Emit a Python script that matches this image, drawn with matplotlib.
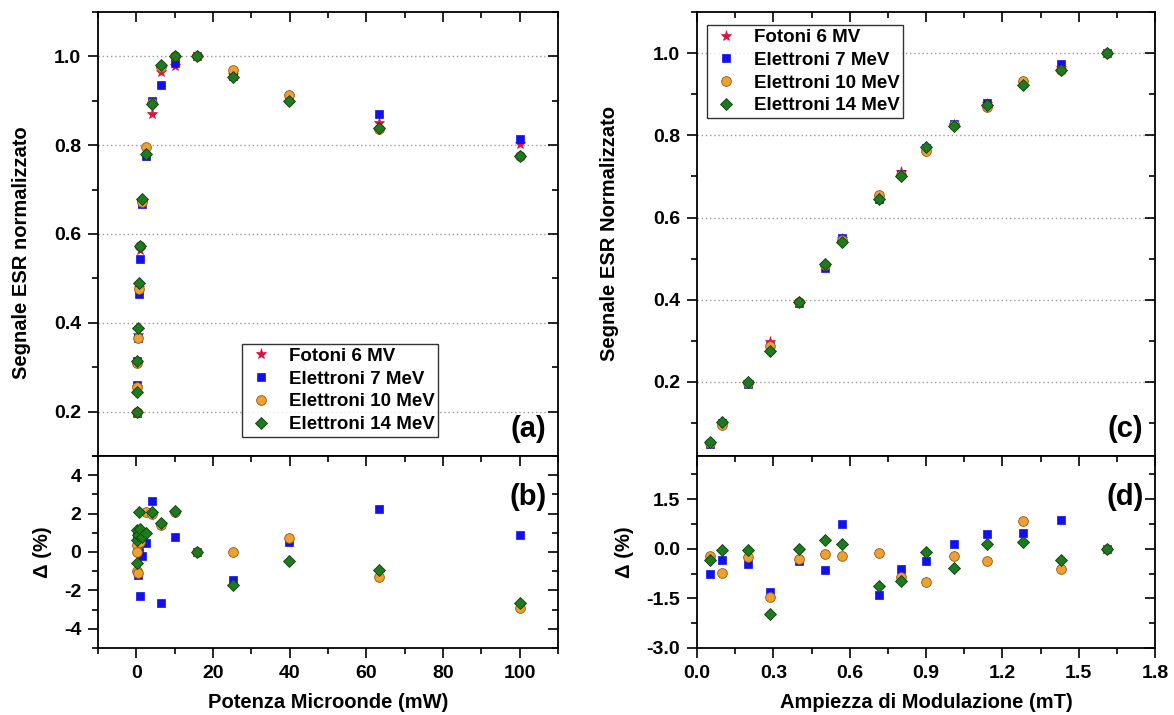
"""ESR signal vs microwave power and modulation amplitude, four beam types."""

import matplotlib
matplotlib.use("Agg")
import matplotlib.pyplot as plt
from matplotlib.lines import TICKLEFT, TICKDOWN
from matplotlib.ticker import MultipleLocator

plt.rcParams["font.family"] = ["Liberation Sans", "DejaVu Sans"]
plt.rcParams["font.weight"] = "bold"
plt.rcParams["axes.unicode_minus"] = False

# --- data: panel (a)/(b), microwave power (mW) ---
power = [0.1, 0.159, 0.25, 0.4, 0.63, 1.0, 1.59, 2.52, 3.99, 6.32,
         10.0, 15.9, 25.2, 39.9, 63.2, 100]
pw_fot6 = [0.200, 0.255, 0.312, 0.372, 0.478, 0.565, 0.672, 0.775, 0.871, 0.965,
           0.979, 1.000, 0.958, 0.910, 0.850, 0.803]
pw_el7 = [0.197, 0.260, 0.315, 0.366, 0.464, 0.543, 0.667, 0.775, 0.900, 0.936,
          0.985, 1.000, 0.955, 0.905, 0.870, 0.813]
pw_el10 = [0.200, 0.256, 0.310, 0.366, 0.476, 0.573, 0.672, 0.796, 0.895, 0.975,
           1.000, 1.000, 0.970, 0.914, 0.837, 0.775]
pw_el14 = [0.200, 0.244, 0.314, 0.388, 0.489, 0.573, 0.678, 0.781, 0.893, 0.980,
           1.000, 1.000, 0.953, 0.900, 0.839, 0.775]
pw_d7 = [1.05, 0.8, 0.5, -1.2, 0.0, -2.3, -0.2, 0.45, 2.65, -2.65,
         0.8, 0.0, -1.45, 0.5, 2.25, 0.9]
pw_d10 = [0.36, 0.0, -1.0, -1.1, 0.8, 0.5, 0.9, 2.07, 2.0, 1.4,
          2.1, 0.0, 0.0, 0.75, -1.3, -2.9]
pw_d14 = [0.6, -0.55, 1.15, 0.9, 2.07, 1.2, 0.8, 1.0, 2.07, 1.5,
          2.15, 0.0, -1.7, -0.45, -0.95, -2.65]

# --- data: panel (c)/(d), modulation amplitude (mT) ---
modul = [0.05, 0.1, 0.2, 0.285, 0.4, 0.505, 0.57, 0.715, 0.8, 0.9,
         1.01, 1.14, 1.28, 1.43, 1.61]
md_fot6 = [0.050, 0.100, 0.200, 0.298, 0.395, 0.485, 0.548, 0.648, 0.710, 0.768,
           0.826, 0.876, 0.928, 0.965, 1.000]
md_el7 = [0.048, 0.100, 0.195, 0.288, 0.393, 0.478, 0.551, 0.644, 0.705, 0.768,
          0.828, 0.879, 0.928, 0.973, 1.000]
md_el10 = [0.052, 0.096, 0.198, 0.288, 0.395, 0.484, 0.546, 0.654, 0.703, 0.761,
           0.824, 0.869, 0.931, 0.960, 1.000]
md_el14 = [0.053, 0.102, 0.199, 0.276, 0.395, 0.486, 0.541, 0.644, 0.700, 0.771,
           0.822, 0.875, 0.923, 0.958, 1.000]
md_d7 = [-0.76, -0.35, -0.45, -1.32, -0.38, -0.64, 0.76, -1.41, -0.62, -0.38,
         0.15, 0.45, 0.47, 0.88, 0.0]
md_d10 = [-0.23, -0.74, -0.25, -1.47, -0.31, -0.16, -0.21, -0.13, -0.86, -1.01,
          -0.21, -0.38, 0.83, -0.62, 0.0]
md_d14 = [-0.35, -0.03, -0.05, -1.97, 0.0, 0.25, 0.14, -1.12, -0.99, -0.11,
          -0.59, 0.15, 0.20, -0.33, 0.0]

labels = ["Fotoni 6 MV", "Elettroni 7 MeV", "Elettroni 10 MeV", "Elettroni 14 MeV"]

# marker styles per series (photons, 7, 10, 14 MeV)
STY = [
    dict(marker="*", color="#e0103c", ms=8, mec="#e0103c", mew=0.5),
    dict(marker="s", color="#1010f0", ms=6, mec="#1010f0", mew=0.5),
    dict(marker="o", color="#f0a030", ms=7, mec="#8a5a10", mew=0.6),
    dict(marker="D", color="#1e7a1e", ms=6.5, mec="#0f3f0f", mew=0.6),
]
LEG = dict(frameon=True, fancybox=False, edgecolor="black", handletextpad=0.7,
           borderpad=0.2, labelspacing=0.3, handlelength=1.6, borderaxespad=0,
           prop=dict(weight="bold", size=13.5))

W, H = 1174, 715
fig = plt.figure(figsize=(W / 100, H / 100), dpi=100)


def frac(x0, y0, x1, y1):
    return [x0 / W, 1 - y1 / H, (x1 - x0) / W, (y1 - y0) / H]


ax_a = fig.add_axes(frac(98, 12, 558, 456))
ax_b = fig.add_axes(frac(98, 456, 558, 648), sharex=ax_a)
ax_c = fig.add_axes(frac(697, 12, 1155, 456))
ax_d = fig.add_axes(frac(697, 456, 1155, 648), sharex=ax_c)


def draw(ax, x, series):
    for ys, st, lab in zip(series, STY, labels):
        if ys is None:
            continue
        ax.plot(x, ys, ls="none", label=lab, **st)


def fmt1(v, p):
    return f"{v:.1f}"


# (a)
draw(ax_a, power, [pw_fot6, pw_el7, pw_el10, pw_el14])
ax_a.set_xlim(-10, 110)
ax_a.set_ylim(0.1, 1.1)
ax_a.yaxis.set_major_locator(MultipleLocator(0.2))
ax_a.yaxis.set_minor_locator(MultipleLocator(0.1))
ax_a.yaxis.set_major_formatter(fmt1)
ax_a.xaxis.set_major_locator(MultipleLocator(20))
ax_a.xaxis.set_minor_locator(MultipleLocator(10))
ax_a.grid(axis="y", which="major", ls=(0, (1, 2)), color="#999999", lw=1.0)
ax_a.set_ylabel("Segnale ESR normalizzato", fontsize=14.5, fontweight="bold")
ax_a.yaxis.set_label_coords(-0.145, 0.457)
ax_a.legend(loc="lower left", bbox_to_anchor=(0.313, 0.043), **LEG)
ax_a.text(0.975, 0.03, "(a)", transform=ax_a.transAxes, ha="right", va="bottom",
          fontsize=21, fontweight="bold")

# (b)
draw(ax_b, power, [None, pw_d7, pw_d10, pw_d14])
ax_b.set_ylim(-5, 5)
ax_b.yaxis.set_major_locator(MultipleLocator(2))
ax_b.yaxis.set_minor_locator(MultipleLocator(1))
ax_b.set_ylabel("Δ (%)", fontsize=14.5, fontweight="bold")
ax_b.yaxis.set_label_coords(-0.1, 0.5)
ax_b.set_xlabel("Potenza Microonde (mW)", fontsize=14.5, fontweight="bold",
                labelpad=8)
ax_b.text(0.975, 0.86, "(b)", transform=ax_b.transAxes, ha="right", va="top",
          fontsize=21, fontweight="bold")

# (c)
draw(ax_c, modul, [md_fot6, md_el7, md_el10, md_el14])
ax_c.set_xlim(0, 1.8)
ax_c.set_ylim(0.02, 1.1)
ax_c.yaxis.set_major_locator(MultipleLocator(0.2))
ax_c.yaxis.set_minor_locator(MultipleLocator(0.1))
ax_c.yaxis.set_major_formatter(fmt1)
ax_c.xaxis.set_major_locator(MultipleLocator(0.3))
ax_c.xaxis.set_minor_locator(MultipleLocator(0.15))
ax_c.grid(axis="y", which="major", ls=(0, (1, 2)), color="#999999", lw=1.0)
ax_c.set_ylabel("Segnale ESR Normalizzato", fontsize=14.5, fontweight="bold")
ax_c.yaxis.set_label_coords(-0.17, 0.5)
ax_c.legend(loc="upper left", bbox_to_anchor=(0.022, 0.97), **LEG)
ax_c.text(0.975, 0.03, "(c)", transform=ax_c.transAxes, ha="right", va="bottom",
          fontsize=21, fontweight="bold")

# (d)
draw(ax_d, modul, [None, md_d7, md_d10, md_d14])
ax_d.set_ylim(-3.0, 2.8)
ax_d.yaxis.set_major_locator(MultipleLocator(1.5))
ax_d.yaxis.set_minor_locator(MultipleLocator(0.75))
ax_d.yaxis.set_major_formatter(fmt1)
ax_d.xaxis.set_major_formatter(fmt1)
ax_d.set_ylabel("Δ (%)", fontsize=14.5, fontweight="bold")
ax_d.yaxis.set_label_coords(-0.137, 0.5)
ax_d.set_xlabel("Ampiezza di Modulazione (mT)", fontsize=14.5, fontweight="bold",
                labelpad=8)
ax_d.text(0.975, 0.86, "(d)", transform=ax_d.transAxes, ha="right", va="top",
          fontsize=21, fontweight="bold")

for ax, bottom in [(ax_a, False), (ax_b, True), (ax_c, False), (ax_d, True)]:
    for s in ax.spines.values():
        s.set_linewidth(1.3)
    ax.tick_params(axis="both", which="both", labelsize=14, width=1.2, pad=5)
    ax.tick_params(axis="both", which="major", length=7)
    ax.tick_params(axis="both", which="minor", length=4)
    ax.tick_params(axis="y", which="both", direction="out", right=True)
    # mirrored right-hand ticks point inward
    for tk in ax.yaxis.get_major_ticks() + ax.yaxis.get_minor_ticks():
        tk.tick2line.set_marker(TICKLEFT)
    if bottom:
        ax.tick_params(axis="x", which="both", direction="out", top=True)
        for tk in ax.xaxis.get_major_ticks() + ax.xaxis.get_minor_ticks():
            tk.tick2line.set_marker(TICKDOWN)
    else:
        ax.tick_params(axis="x", which="both", bottom=False, labelbottom=False,
                       top=True, direction="in")

fig.savefig("out.png", dpi=100)
